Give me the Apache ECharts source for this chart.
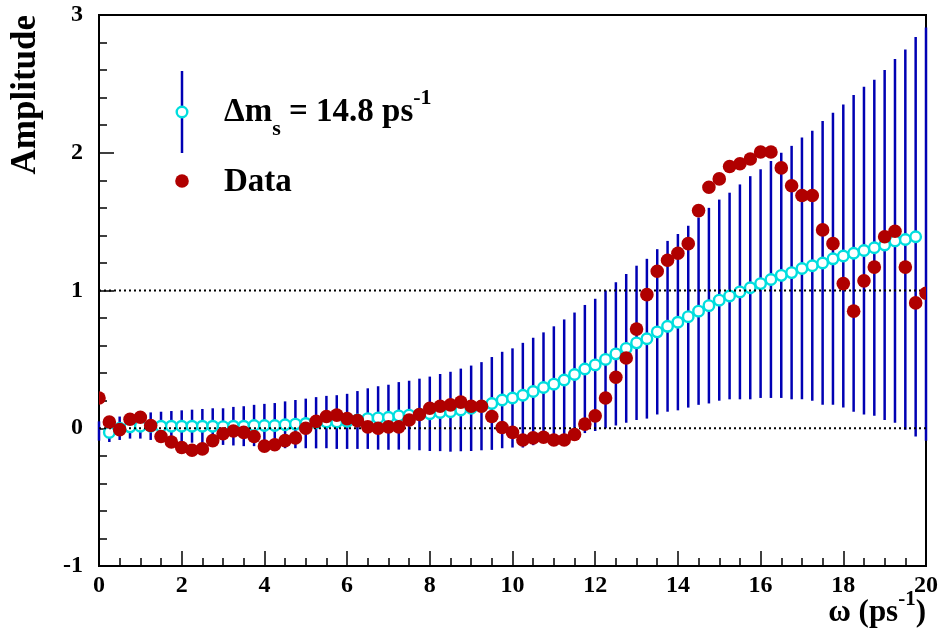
<!DOCTYPE html>
<html><head><meta charset="utf-8">
<script src="https://cdn.jsdelivr.net/npm/echarts@6/dist/echarts.min.js"></script>
<style>html,body{margin:0;padding:0;background:#fff}#c{width:943px;height:640px}</style>
</head><body><div id="c"></div>
<script>
// scan frequencies omega (ps^-1)
const omega = [0,0.25,0.5,0.75,1,1.25,1.5,1.75,2,2.25,
  2.5,2.75,3,3.25,3.5,3.75,4,4.25,4.5,4.75,
  5,5.25,5.5,5.75,6,6.25,6.5,6.75,7,7.25,
  7.5,7.75,8,8.25,8.5,8.75,9,9.25,9.5,9.75,
  10,10.25,10.5,10.75,11,11.25,11.5,11.75,12,12.25,
  12.5,12.75,13,13.25,13.5,13.75,14,14.25,14.5,14.75,
  15,15.25,15.5,15.75,16,16.25,16.5,16.75,17,17.25,
  17.5,17.75,18,18.25,18.5,18.75,19,19.25,19.5,19.75,
  20];
// measured amplitude (Data)
const dataAmp = [0.22,0.045,-0.01,0.065,0.08,0.02,-0.06,-0.10,-0.14,-0.16,
  -0.15,-0.09,-0.04,-0.02,-0.03,-0.06,-0.13,-0.12,-0.09,-0.07,
  0.0,0.05,0.085,0.095,0.07,0.055,0.01,0.0,0.01,0.01,
  0.06,0.10,0.145,0.16,0.17,0.19,0.16,0.16,0.085,0.005,
  -0.03,-0.085,-0.07,-0.065,-0.085,-0.085,-0.045,0.03,0.09,0.22,
  0.37,0.51,0.72,0.97,1.14,1.22,1.27,1.34,1.58,1.75,
  1.81,1.90,1.92,1.955,2.005,2.005,1.89,1.76,1.69,1.69,
  1.44,1.34,1.05,0.85,1.07,1.17,1.39,1.43,1.17,0.91,
  0.98];
// expected amplitude for Δms = 14.8 ps^-1
const expAmp = [-0.02,-0.03,0.0,0.01,0.015,0.015,0.015,0.015,0.015,0.015,
  0.015,0.015,0.012,0.015,0.015,0.02,0.02,0.02,0.025,0.03,
  0.035,0.04,0.045,0.045,0.05,0.06,0.07,0.075,0.08,0.09,
  0.095,0.10,0.105,0.114,0.12,0.133,0.145,0.16,0.18,0.205,
  0.22,0.24,0.267,0.296,0.32,0.35,0.39,0.43,0.46,0.50,
  0.54,0.58,0.62,0.65,0.70,0.74,0.77,0.81,0.85,0.89,
  0.93,0.96,0.99,1.02,1.05,1.08,1.11,1.13,1.16,1.18,
  1.20,1.23,1.25,1.27,1.29,1.31,1.33,1.36,1.37,1.39,
  1.41];
// uncertainty of expected amplitude
const expSigma = [0.07,0.07,0.085,0.085,0.09,0.10,0.105,0.11,0.115,0.12,
  0.125,0.13,0.133,0.14,0.145,0.15,0.157,0.163,0.17,0.175,
  0.18,0.186,0.19,0.195,0.20,0.21,0.22,0.23,0.236,0.245,
  0.25,0.26,0.27,0.28,0.29,0.30,0.31,0.32,0.337,0.35,
  0.36,0.38,0.39,0.40,0.42,0.44,0.45,0.465,0.48,0.50,
  0.52,0.54,0.56,0.58,0.60,0.62,0.64,0.66,0.68,0.71,
  0.73,0.75,0.78,0.81,0.83,0.86,0.89,0.92,0.95,0.98,
  1.03,1.06,1.10,1.15,1.19,1.22,1.27,1.32,1.38,1.45,
  1.50];
const refLines = [0, 1];
const legendLabels = ['Data'];

const FF = '"Liberation Serif", "Times New Roman", serif';
const BLUE = '#0000b4', CYAN = '#00dede', RED = '#b00000';

const errData = omega.map((w, i) => [w, expAmp[i] - expSigma[i], expAmp[i] + expSigma[i]]);
const expData = omega.map((w, i) => [w, expAmp[i]]).filter((d, i) => i > 0 && i < omega.length - 1);
const ampData = omega.map((w, i) => [w, dataAmp[i]]);

const cv = document.createElement('canvas').getContext('2d');
function tw(t, size) { cv.font = 'bold ' + size + 'px ' + FF; return cv.measureText(t).width; }
function chain(x0, frags) {
  const out = []; let x = x0;
  frags.forEach(f => {
    out.push({type: 'text', x: x, y: f.cy, z: 100,
      style: {text: f.t, font: 'bold ' + f.s + 'px ' + FF, fill: '#000', align: 'left', verticalAlign: 'middle'}});
    x += tw(f.t, f.s);
  });
  return out;
}
function chainRight(xr, frags) {
  let tot = 0; frags.forEach(f => tot += tw(f.t, f.s));
  return chain(xr - tot, frags);
}

const legendText = chain(224, [
  {t: 'Δm', s: 33, cy: 112},
  {t: 's', s: 22, cy: 129},
  {t: ' = 14.8 ps', s: 33, cy: 112},
  {t: '-1', s: 22, cy: 98}
]).concat(chain(224, [{t: legendLabels[0], s: 33, cy: 182}]));

const xTitle = chainRight(926, [
  {t: 'ω (ps', s: 31, cy: 613},
  {t: '-1', s: 21, cy: 600},
  {t: ')', s: 31, cy: 613}
]);

const chart = echarts.init(document.getElementById('c'), null, {renderer: 'canvas'});
const axisFont = {fontFamily: FF, fontWeight: 'bold', fontSize: 24, color: '#000'};
chart.setOption({
  animation: false,
  backgroundColor: '#fff',
  grid: {left: 99, right: 17, top: 15, bottom: 74, show: true, borderColor: '#000', borderWidth: 2,
         backgroundColor: 'transparent', containLabel: false, outerBoundsMode: 'none'},
  xAxis: {type: 'value', min: 0, max: 20, interval: 2,
    axisLine: {show: true, onZero: false, lineStyle: {color: '#000', width: 2}},
    axisTick: {show: true, inside: true, length: 15, lineStyle: {color: '#000', width: 1.5}},
    minorTick: {show: true, splitNumber: 4, length: 8, lineStyle: {color: '#000', width: 1.5}},
    splitLine: {show: false}, minorSplitLine: {show: false},
    axisLabel: Object.assign({margin: 8}, axisFont)},
  yAxis: {type: 'value', min: -1, max: 3, interval: 1,
    axisLine: {show: true, onZero: false, lineStyle: {color: '#000', width: 2}},
    axisTick: {show: true, inside: true, length: 15, lineStyle: {color: '#000', width: 1.5}},
    minorTick: {show: true, splitNumber: 5, length: 8, lineStyle: {color: '#000', width: 1.5}},
    splitLine: {show: false}, minorSplitLine: {show: false},
    axisLabel: Object.assign({margin: 16}, axisFont)},
  series: [
    {type: 'custom', name: 'err', z: 6, clip: false, data: errData, encode: {x: 0, y: [1, 2]},
     renderItem: function (params, api) {
       const a = api.coord([api.value(0), api.value(1)]);
       const b = api.coord([api.value(0), api.value(2)]);
       return {type: 'line', shape: {x1: a[0], y1: a[1], x2: b[0], y2: b[1]},
               style: {stroke: BLUE, lineWidth: 2.5}};
     }},
    {type: 'scatter', name: 'exp', z: 7, data: expData, symbol: 'circle', symbolSize: 10.5,
     itemStyle: {color: '#fff', borderColor: CYAN, borderWidth: 2.4, opacity: 1}},
    {type: 'line', name: 'ref0', z: 8, data: [[0, refLines[0]], [20, refLines[0]]], symbol: 'none',
     lineStyle: {color: '#000', width: 2, type: [2, 3]}},
    {type: 'line', name: 'ref1', z: 8, data: [[0, refLines[1]], [20, refLines[1]]], symbol: 'none',
     lineStyle: {color: '#000', width: 2, type: [2, 3]}},
    {type: 'custom', name: 'Data', z: 9, clip: true, data: ampData, encode: {x: 0, y: 1},
     renderItem: function (params, api) {
       const p = api.coord([api.value(0), api.value(1)]);
       return {type: 'circle', shape: {cx: p[0], cy: p[1], r: 6.8}, style: {fill: RED}};
     }}
  ],
  graphic: [
    {type: 'line', shape: {x1: 182, y1: 71, x2: 182, y2: 153}, style: {stroke: BLUE, lineWidth: 2.5}, z: 100},
    {type: 'circle', shape: {cx: 182, cy: 112, r: 5.3}, style: {fill: '#fff', stroke: CYAN, lineWidth: 2.4}, z: 101},
    {type: 'circle', shape: {cx: 182, cy: 181, r: 6.8}, style: {fill: RED}, z: 100},
    {type: 'text', x: 26, y: 15, rotation: Math.PI / 2, z: 100,
     style: {text: 'Amplitude', font: 'bold 35px ' + FF, fill: '#000', align: 'right', verticalAlign: 'middle'}}
  ].concat(legendText).concat(xTitle)
});
</script>
</body></html>
